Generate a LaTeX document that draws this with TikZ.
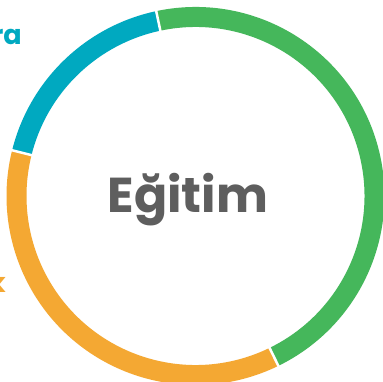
\documentclass[tikz,border=0pt]{standalone}
\usepackage{fontspec}
\setmainfont{Poppins}
\usetikzlibrary{positioning}
\definecolor{ringgreen}{HTML}{45B75B}
\definecolor{ringorange}{HTML}{F4A833}
\definecolor{ringblue}{HTML}{00A9C0}
\definecolor{titlegray}{HTML}{5E5E5E}
\tikzset{
  ringpart/.style={line width=20pt},
  ringgap/.style={draw=white, line width=2.5pt},
  sidelabel/.style={font=\fontsize{27}{27}\selectfont\bfseries, inner sep=0pt}
}

\begin{document}
\begin{tikzpicture}[x=1pt, y=1pt]
        % frame of the picture
        \clip (0,0) rectangle (383,-382);
        \fill[white] (0,0) rectangle (383,-382);
        \coordinate (center) at (195.5,-196);

        % ring parts
        \draw[ringpart, ringgreen] (center) ++(102:179pt) arc[start angle=102, end angle=-64, radius=179pt];
        \draw[ringpart, ringorange] (center) ++(-64:179pt) arc[start angle=-64, end angle=-194, radius=179pt];
        \draw[ringpart, ringblue] (center) ++(166:179pt) arc[start angle=166, end angle=102, radius=179pt];

        % white cuts between the parts
        \foreach \ang in {102,-64,166}
            \draw[ringgap] (center) ++(\ang:166pt) -- ++(\ang:26pt);

        % texts
        \node[font=\fontsize{49}{49}\selectfont\bfseries, text=titlegray, inner sep=0pt, anchor=base] (title) at (188,-213) {Eğitim};
        \node[sidelabel, text=ringblue, anchor=base east] (toplabel) at (22,-45) {ra};
        \node[sidelabel, text=ringorange, anchor=base east] (leftlabel) at (6,-292) {k};
\end{tikzpicture}
\end{document}
